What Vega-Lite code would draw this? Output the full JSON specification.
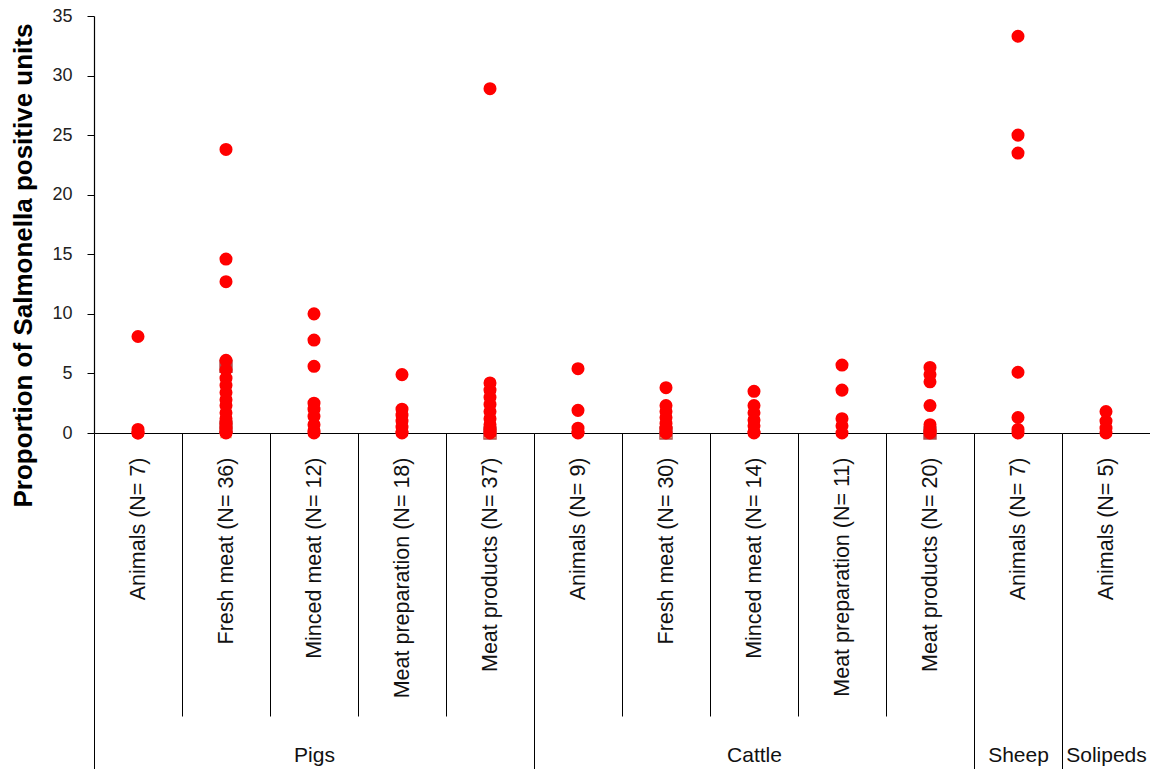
{
  "$schema": "https://vega.github.io/schema/vega-lite/v6.json",
  "background": "white",
  "autosize": {"type": "pad"},
  "padding": {"left": 9, "top": 7, "right": 1, "bottom": 0},
  "spacing": 0,
  "bounds": "flush",
  "config": {"view": {"stroke": null}, "font": "Liberation Sans", "concat": {"spacing": 0}},
  "resolve": {"scale": {"x": "independent"}},
  "data": {"values": [
    {"group": "Pigs", "category": "Animals (N= 7)", "value": 8.1, "marker": "circle"},
    {"group": "Pigs", "category": "Animals (N= 7)", "value": 0.3, "marker": "circle"},
    {"group": "Pigs", "category": "Animals (N= 7)", "value": 0, "marker": "circle"},
    {"group": "Pigs", "category": "Animals (N= 7)", "value": 0, "marker": "circle"},
    {"group": "Pigs", "category": "Fresh meat (N= 36)", "value": 5.6, "marker": "square"},
    {"group": "Pigs", "category": "Fresh meat (N= 36)", "value": 0.5, "marker": "square"},
    {"group": "Pigs", "category": "Fresh meat (N= 36)", "value": 3.0, "marker": "triangle"},
    {"group": "Pigs", "category": "Fresh meat (N= 36)", "value": 0, "marker": "triangle"},
    {"group": "Pigs", "category": "Fresh meat (N= 36)", "value": 23.8, "marker": "circle"},
    {"group": "Pigs", "category": "Fresh meat (N= 36)", "value": 14.6, "marker": "circle"},
    {"group": "Pigs", "category": "Fresh meat (N= 36)", "value": 12.7, "marker": "circle"},
    {"group": "Pigs", "category": "Fresh meat (N= 36)", "value": 6.1, "marker": "circle"},
    {"group": "Pigs", "category": "Fresh meat (N= 36)", "value": 5.3, "marker": "circle"},
    {"group": "Pigs", "category": "Fresh meat (N= 36)", "value": 4.6, "marker": "circle"},
    {"group": "Pigs", "category": "Fresh meat (N= 36)", "value": 4.0, "marker": "circle"},
    {"group": "Pigs", "category": "Fresh meat (N= 36)", "value": 3.4, "marker": "circle"},
    {"group": "Pigs", "category": "Fresh meat (N= 36)", "value": 2.8, "marker": "circle"},
    {"group": "Pigs", "category": "Fresh meat (N= 36)", "value": 2.3, "marker": "circle"},
    {"group": "Pigs", "category": "Fresh meat (N= 36)", "value": 1.7, "marker": "circle"},
    {"group": "Pigs", "category": "Fresh meat (N= 36)", "value": 1.2, "marker": "circle"},
    {"group": "Pigs", "category": "Fresh meat (N= 36)", "value": 0.8, "marker": "circle"},
    {"group": "Pigs", "category": "Fresh meat (N= 36)", "value": 0.4, "marker": "circle"},
    {"group": "Pigs", "category": "Fresh meat (N= 36)", "value": 0.1, "marker": "circle"},
    {"group": "Pigs", "category": "Fresh meat (N= 36)", "value": 0, "marker": "circle"},
    {"group": "Pigs", "category": "Minced meat (N= 12)", "value": 10.0, "marker": "circle"},
    {"group": "Pigs", "category": "Minced meat (N= 12)", "value": 7.8, "marker": "circle"},
    {"group": "Pigs", "category": "Minced meat (N= 12)", "value": 5.6, "marker": "circle"},
    {"group": "Pigs", "category": "Minced meat (N= 12)", "value": 2.5, "marker": "circle"},
    {"group": "Pigs", "category": "Minced meat (N= 12)", "value": 2.0, "marker": "circle"},
    {"group": "Pigs", "category": "Minced meat (N= 12)", "value": 1.4, "marker": "circle"},
    {"group": "Pigs", "category": "Minced meat (N= 12)", "value": 0.7, "marker": "circle"},
    {"group": "Pigs", "category": "Minced meat (N= 12)", "value": 0.2, "marker": "circle"},
    {"group": "Pigs", "category": "Minced meat (N= 12)", "value": 0, "marker": "circle"},
    {"group": "Pigs", "category": "Meat preparation  (N= 18)", "value": 4.9, "marker": "circle"},
    {"group": "Pigs", "category": "Meat preparation  (N= 18)", "value": 2.0, "marker": "circle"},
    {"group": "Pigs", "category": "Meat preparation  (N= 18)", "value": 1.5, "marker": "circle"},
    {"group": "Pigs", "category": "Meat preparation  (N= 18)", "value": 1.0, "marker": "circle"},
    {"group": "Pigs", "category": "Meat preparation  (N= 18)", "value": 0.5, "marker": "circle"},
    {"group": "Pigs", "category": "Meat preparation  (N= 18)", "value": 0.1, "marker": "circle"},
    {"group": "Pigs", "category": "Meat preparation  (N= 18)", "value": 0, "marker": "circle"},
    {"group": "Pigs", "category": "Meat products (N= 37)", "value": 0, "marker": "square"},
    {"group": "Pigs", "category": "Meat products (N= 37)", "value": 1.0, "marker": "triangle"},
    {"group": "Pigs", "category": "Meat products (N= 37)", "value": 0, "marker": "triangle"},
    {"group": "Pigs", "category": "Meat products (N= 37)", "value": 28.9, "marker": "circle"},
    {"group": "Pigs", "category": "Meat products (N= 37)", "value": 4.2, "marker": "circle"},
    {"group": "Pigs", "category": "Meat products (N= 37)", "value": 3.6, "marker": "circle"},
    {"group": "Pigs", "category": "Meat products (N= 37)", "value": 3.0, "marker": "circle"},
    {"group": "Pigs", "category": "Meat products (N= 37)", "value": 2.4, "marker": "circle"},
    {"group": "Pigs", "category": "Meat products (N= 37)", "value": 1.8, "marker": "circle"},
    {"group": "Pigs", "category": "Meat products (N= 37)", "value": 1.2, "marker": "circle"},
    {"group": "Pigs", "category": "Meat products (N= 37)", "value": 0.7, "marker": "circle"},
    {"group": "Pigs", "category": "Meat products (N= 37)", "value": 0.3, "marker": "circle"},
    {"group": "Pigs", "category": "Meat products (N= 37)", "value": 0, "marker": "circle"},
    {"group": "Cattle", "category": "Animals (N= 9)", "value": 5.4, "marker": "circle"},
    {"group": "Cattle", "category": "Animals (N= 9)", "value": 1.9, "marker": "circle"},
    {"group": "Cattle", "category": "Animals (N= 9)", "value": 0.4, "marker": "circle"},
    {"group": "Cattle", "category": "Animals (N= 9)", "value": 0.1, "marker": "circle"},
    {"group": "Cattle", "category": "Animals (N= 9)", "value": 0, "marker": "circle"},
    {"group": "Cattle", "category": "Fresh meat (N= 30)", "value": 0, "marker": "square"},
    {"group": "Cattle", "category": "Fresh meat (N= 30)", "value": 0, "marker": "triangle"},
    {"group": "Cattle", "category": "Fresh meat (N= 30)", "value": 3.8, "marker": "circle"},
    {"group": "Cattle", "category": "Fresh meat (N= 30)", "value": 2.3, "marker": "circle"},
    {"group": "Cattle", "category": "Fresh meat (N= 30)", "value": 1.8, "marker": "circle"},
    {"group": "Cattle", "category": "Fresh meat (N= 30)", "value": 1.3, "marker": "circle"},
    {"group": "Cattle", "category": "Fresh meat (N= 30)", "value": 0.8, "marker": "circle"},
    {"group": "Cattle", "category": "Fresh meat (N= 30)", "value": 0.4, "marker": "circle"},
    {"group": "Cattle", "category": "Fresh meat (N= 30)", "value": 0, "marker": "circle"},
    {"group": "Cattle", "category": "Minced meat (N= 14)", "value": 3.5, "marker": "circle"},
    {"group": "Cattle", "category": "Minced meat (N= 14)", "value": 2.3, "marker": "circle"},
    {"group": "Cattle", "category": "Minced meat (N= 14)", "value": 1.7, "marker": "circle"},
    {"group": "Cattle", "category": "Minced meat (N= 14)", "value": 1.1, "marker": "circle"},
    {"group": "Cattle", "category": "Minced meat (N= 14)", "value": 0.6, "marker": "circle"},
    {"group": "Cattle", "category": "Minced meat (N= 14)", "value": 0.1, "marker": "circle"},
    {"group": "Cattle", "category": "Minced meat (N= 14)", "value": 0, "marker": "circle"},
    {"group": "Cattle", "category": "Meat preparation  (N= 11)", "value": 5.7, "marker": "circle"},
    {"group": "Cattle", "category": "Meat preparation  (N= 11)", "value": 3.6, "marker": "circle"},
    {"group": "Cattle", "category": "Meat preparation  (N= 11)", "value": 1.2, "marker": "circle"},
    {"group": "Cattle", "category": "Meat preparation  (N= 11)", "value": 0.6, "marker": "circle"},
    {"group": "Cattle", "category": "Meat preparation  (N= 11)", "value": 0, "marker": "circle"},
    {"group": "Cattle", "category": "Meat products (N= 20)", "value": 0, "marker": "square"},
    {"group": "Cattle", "category": "Meat products (N= 20)", "value": 5.5, "marker": "circle"},
    {"group": "Cattle", "category": "Meat products (N= 20)", "value": 4.9, "marker": "circle"},
    {"group": "Cattle", "category": "Meat products (N= 20)", "value": 4.3, "marker": "circle"},
    {"group": "Cattle", "category": "Meat products (N= 20)", "value": 2.3, "marker": "circle"},
    {"group": "Cattle", "category": "Meat products (N= 20)", "value": 0.7, "marker": "circle"},
    {"group": "Cattle", "category": "Meat products (N= 20)", "value": 0.2, "marker": "circle"},
    {"group": "Cattle", "category": "Meat products (N= 20)", "value": 0, "marker": "circle"},
    {"group": "Sheep", "category": "Animals (N= 7)", "value": 33.3, "marker": "circle"},
    {"group": "Sheep", "category": "Animals (N= 7)", "value": 25.0, "marker": "circle"},
    {"group": "Sheep", "category": "Animals (N= 7)", "value": 23.5, "marker": "circle"},
    {"group": "Sheep", "category": "Animals (N= 7)", "value": 5.1, "marker": "circle"},
    {"group": "Sheep", "category": "Animals (N= 7)", "value": 1.3, "marker": "circle"},
    {"group": "Sheep", "category": "Animals (N= 7)", "value": 0.3, "marker": "circle"},
    {"group": "Sheep", "category": "Animals (N= 7)", "value": 0, "marker": "circle"},
    {"group": "Solipeds", "category": "Animals (N= 5)", "value": 1.8, "marker": "circle"},
    {"group": "Solipeds", "category": "Animals (N= 5)", "value": 1.0, "marker": "circle"},
    {"group": "Solipeds", "category": "Animals (N= 5)", "value": 0.4, "marker": "circle"},
    {"group": "Solipeds", "category": "Animals (N= 5)", "value": 0, "marker": "circle"}
  ]},
  "hconcat": [
    {
      "width": 440, "height": 417,
      "transform": [{"filter": "datum.group === 'Pigs'"}],
      "encoding": {
        "x": {"field": "category", "type": "nominal",
          "sort": ["Animals (N= 7)", "Fresh meat (N= 36)", "Minced meat (N= 12)", "Meat preparation  (N= 18)", "Meat products (N= 37)"],
          "scale": {"paddingInner": 0, "paddingOuter": 0},
          "axis": {"title": "Pigs", "titleFontSize": 21, "titleFontWeight": "normal", "titleColor": "#111", "titleY": 322, "titleBaseline": "middle",
            "labelAngle": -90, "labelAlign": "right", "labelBaseline": "middle", "labelFontSize": 21.5, "labelColor": "#111", "labelLimit": 400,
            "tickBand": "extent", "tickColor": "#000", "tickWidth": 1,
            "tickSize": {"condition": {"test": "datum.extra", "value": 336}, "value": 283},
            "labelPadding": -259,
            "domainColor": "#000", "domainWidth": 1.2, "grid": false}},
        "y": {"field": "value", "type": "quantitative", "scale": {"domain": [0, 35], "nice": false},
          "axis": {"title": "Proportion of Salmonella positive units", "titleFontSize": 26, "titleFontWeight": "bold", "titleColor": "#000",
            "titleX": -71, "titleY": 249, "titleAngle": 270, "titleAlign": "center", "titleBaseline": "middle",
            "values": [0, 5, 10, 15, 20, 25, 30, 35], "labelFontSize": 18, "labelColor": "#222", "labelPadding": 15,
            "tickSize": 7, "tickColor": "#000", "domainColor": "#000", "domainWidth": 1.2, "grid": false}}
      },
      "layer": [
        {"transform": [{"filter": "datum.marker === 'square'"}], "mark": {"type": "square", "size": 180, "color": "#b04848", "opacity": 1}},
        {"transform": [{"filter": "datum.marker === 'triangle'"}], "mark": {"type": "point", "shape": "triangle-up", "filled": true, "size": 150, "color": "#f4a46a", "opacity": 1}},
        {"transform": [{"filter": "datum.marker === 'circle'"}], "mark": {"type": "circle", "size": 170, "color": "#ff0000", "opacity": 1}}
      ]
    },
    {
      "width": 440, "height": 417,
      "transform": [{"filter": "datum.group === 'Cattle'"}],
      "encoding": {
        "x": {"field": "category", "type": "nominal",
          "sort": ["Animals (N= 9)", "Fresh meat (N= 30)", "Minced meat (N= 14)", "Meat preparation  (N= 11)", "Meat products (N= 20)"],
          "scale": {"paddingInner": 0, "paddingOuter": 0},
          "axis": {"title": "Cattle", "titleFontSize": 21, "titleFontWeight": "normal", "titleColor": "#111", "titleY": 322, "titleBaseline": "middle",
            "labelAngle": -90, "labelAlign": "right", "labelBaseline": "middle", "labelFontSize": 21.5, "labelColor": "#111", "labelLimit": 400,
            "tickBand": "extent", "tickColor": "#000", "tickWidth": 1,
            "tickSize": {"condition": {"test": "datum.extra", "value": 336}, "value": 283},
            "labelPadding": -259,
            "domainColor": "#000", "domainWidth": 1.2, "grid": false}},
        "y": {"field": "value", "type": "quantitative", "scale": {"domain": [0, 35], "nice": false}, "axis": null}
      },
      "layer": [
        {"transform": [{"filter": "datum.marker === 'square'"}], "mark": {"type": "square", "size": 180, "color": "#b04848", "opacity": 1}},
        {"transform": [{"filter": "datum.marker === 'triangle'"}], "mark": {"type": "point", "shape": "triangle-up", "filled": true, "size": 150, "color": "#f4a46a", "opacity": 1}},
        {"transform": [{"filter": "datum.marker === 'circle'"}], "mark": {"type": "circle", "size": 170, "color": "#ff0000", "opacity": 1}}
      ]
    },
    {
      "width": 88, "height": 417,
      "transform": [{"filter": "datum.group === 'Sheep'"}],
      "encoding": {
        "x": {"field": "category", "type": "nominal",
          "scale": {"paddingInner": 0, "paddingOuter": 0},
          "axis": {"title": "Sheep", "titleFontSize": 21, "titleFontWeight": "normal", "titleColor": "#111", "titleY": 322, "titleBaseline": "middle",
            "labelAngle": -90, "labelAlign": "right", "labelBaseline": "middle", "labelFontSize": 21.5, "labelColor": "#111", "labelLimit": 400,
            "tickBand": "extent", "tickColor": "#000", "tickWidth": 1,
            "tickSize": {"condition": {"test": "datum.extra", "value": 336}, "value": 283},
            "labelPadding": -259,
            "domainColor": "#000", "domainWidth": 1.2, "grid": false}},
        "y": {"field": "value", "type": "quantitative", "scale": {"domain": [0, 35], "nice": false}, "axis": null}
      },
      "layer": [
        {"transform": [{"filter": "datum.marker === 'circle'"}], "mark": {"type": "circle", "size": 170, "color": "#ff0000", "opacity": 1}}
      ]
    },
    {
      "width": 88, "height": 417,
      "transform": [{"filter": "datum.group === 'Solipeds'"}],
      "encoding": {
        "x": {"field": "category", "type": "nominal",
          "scale": {"paddingInner": 0, "paddingOuter": 0},
          "axis": {"title": "Solipeds", "titleFontSize": 21, "titleFontWeight": "normal", "titleColor": "#111", "titleY": 322, "titleBaseline": "middle",
            "labelAngle": -90, "labelAlign": "right", "labelBaseline": "middle", "labelFontSize": 21.5, "labelColor": "#111", "labelLimit": 400,
            "tickBand": "extent", "tickColor": "#000", "tickWidth": 1,
            "tickSize": {"condition": {"test": "datum.extra", "value": 336}, "value": 283},
            "tickOpacity": {"condition": {"test": "datum.extra", "value": 1}, "value": 0},
            "labelPadding": -259,
            "domainColor": "#000", "domainWidth": 1.2, "grid": false}},
        "y": {"field": "value", "type": "quantitative", "scale": {"domain": [0, 35], "nice": false}, "axis": null}
      },
      "layer": [
        {"transform": [{"filter": "datum.marker === 'circle'"}], "mark": {"type": "circle", "size": 170, "color": "#ff0000", "opacity": 1}}
      ]
    }
  ]
}
